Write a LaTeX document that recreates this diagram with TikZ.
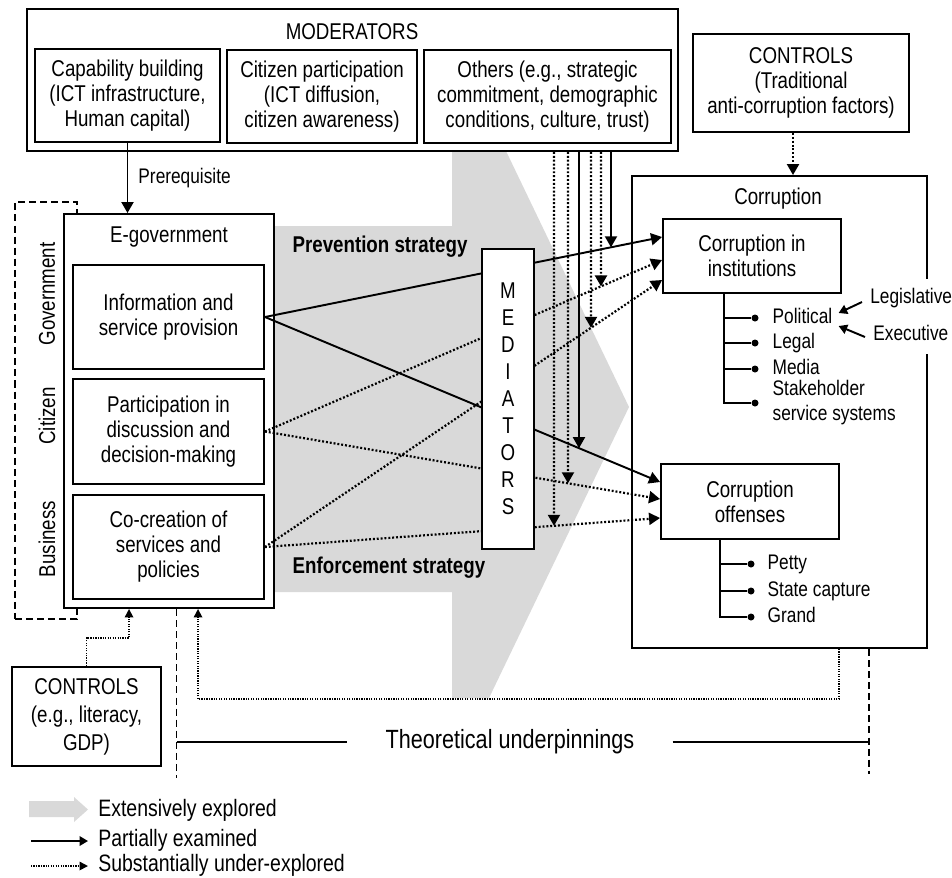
\documentclass[tikz,border=0pt]{standalone}
\usepackage{fontspec}
\setmainfont{Liberation Sans}[FakeStretch=0.82]
\usepackage{tikz}
\usetikzlibrary{positioning,calc,arrows.meta}
\newcommand\txtbox{\fontsize{13}{14.2}\selectfont}
\newcommand\txtlist{\fontsize{12}{14.2}\selectfont}
\newcommand\txtmed{\fontsize{13}{15.4}\selectfont}
\newcommand\txtctl{\fontsize{13}{16}\selectfont}
\newcommand\txtbig{\fontsize{15}{17}\selectfont}
\newcommand\txtleg{\fontsize{13.5}{15}\selectfont}

\begin{document}
\begin{tikzpicture}[x=0.02cm,y=-0.02cm,
    sz/.style 2 args={minimum width=#1*0.02cm,minimum height=#2*0.02cm},
    ebox/.style={draw,line width=1.1pt,fill=white,align=center,inner sep=0pt,font=\txtbox},
    lbl/.style={inner sep=0pt,font=\txtbox,align=center},
    listitem/.style={inner sep=0pt,font=\txtlist,anchor=west,text height=1.6ex,text depth=0.4ex},
    listitemtwo/.style={inner sep=0pt,font=\txtlist,anchor=west,align=left},
    bullet/.style={circle,fill,inner sep=0pt,minimum size=0.14cm},
    branch/.style={line width=1.1pt},
    solidarr/.style={line width=1.1pt,-{Triangle[length=0.22cm,width=0.24cm]}},
    smallarr/.style={line width=1.1pt,-{Triangle[length=0.17cm,width=0.19cm]}},
    dotarr/.style={line width=1.25pt,dash pattern=on 1.1pt off 1.1pt,-{Triangle[length=0.22cm,width=0.24cm]}},
    thindot/.style={line width=0.9pt,dash pattern=on 0.7pt off 0.7pt,-{Triangle[length=0.17cm,width=0.17cm]}},
    dashln/.style={line width=0.6pt,dash pattern=on 4pt off 2.3pt}]
  \useasboundingbox (0,0) rectangle (952,877);

  \fill[gray!30] (274,226) -- (452,226) -- (452,151) -- (506,151) -- (629,407) -- (489,698)
    -- (452,698) -- (452,592) -- (274,592) -- cycle;

  \node[ebox,sz={651}{142}] (mod) at (352.5,80) {};
  \node[lbl] (modlbl) at (352,32) {MODERATORS};
  \node[ebox,sz={185}{93}] (capab) at (127.5,95.5) {Capability building\\(ICT infrastructure,\\Human capital)};
  \node[ebox,sz={190}{93}] (citpart) at (322,96.5) {Citizen participation\\(ICT diffusion,\\citizen awareness)};
  \node[ebox,sz={247}{93}] (others) at (547.5,96.5) {Others (e.g., strategic\\commitment, demographic\\conditions, culture, trust)};

  \node[ebox,sz={216}{98}] (ctrltop) at (801,83) {CONTROLS\\(Traditional\\anti-corruption factors)};
  \node[ebox,fill=none,sz={295}{472}] (corr) at (779.5,412) {};
  \node[lbl] (corrlbl) at (778,199) {Corruption};
  \coordinate (ctd) at ($(ctrltop.south)+(-8,0)$);
  \draw[dotarr] (ctd) -- (ctd |- corr.north);
  \node[ebox,sz={178}{74}] (inst) at (752,256) {Corruption in\\institutions};
  \node[ebox,sz={178}{75}] (off) at (750,501.5) {Corruption\\offenses};

  \coordinate (instroot) at ($(inst.south)+(-28,0)$);
  \foreach \nm/\yy/\txt in {pol/318/Political,leg/343/Legal,media/369/Media}{
    \node[bullet] (b\nm) at (755,\yy) {};
    \node[listitem,right=0.27cm of b\nm] (\nm) {\txt};
    \draw[branch] (instroot |- b\nm) -- (b\nm);
  }
  \node[bullet] (bstk) at (755,403) {};
  \node[listitemtwo,right=0.27cm of bstk] (stk) {Stakeholder\\service systems};
  \draw[branch] (instroot) |- (bstk);

  \coordinate (offroot) at ($(off.south)+(-30,0)$);
  \foreach \nm/\yy/\txt in {petty/564/Petty,statecap/591/State capture}{
    \node[bullet] (b\nm) at (751,\yy) {};
    \node[listitem,right=0.25cm of b\nm] (\nm) {\txt};
    \draw[branch] (offroot |- b\nm) -- (b\nm);
  }
  \node[bullet] (bgrand) at (751,617) {};
  \node[listitem,right=0.25cm of bgrand] (grand) {Grand};
  \draw[branch] (offroot) |- (bgrand);

  \node[listitem,fill=white,inner xsep=0.1cm,inner ysep=0.2cm] (legis) at (865,298) {Legislative};
  \node[listitem,fill=white,inner xsep=0.1cm,inner ysep=0.2cm] (exec) at (868,335) {Executive};
  \draw[smallarr] ($(legis.west)+(-3,4)$) -- ($(pol.east)+(6,-5)$);
  \draw[smallarr] ($(exec.west)+(-3,2)$) -- ($(pol.east)+(6,8)$);

  \node[draw,dashln,sz={62}{417}] (grp) at (46,410.5) {};
  \node[ebox,sz={210}{394}] (egov) at (169,411) {};
  \node[lbl] (egovlbl) at (169,237) {E-government};
  \node[ebox,sz={191}{104}] (info) at (168.5,317) {Information and\\service provision};
  \node[ebox,sz={191}{105}] (part) at (168.5,431.5) {Participation in\\discussion and\\decision-making};
  \node[ebox,sz={191}{104}] (cocr) at (168.5,547) {Co-creation of\\services and\\policies};
  \node[lbl,rotate=90] (lgov) at (47,294) {Government};
  \node[lbl,rotate=90] (lcit) at (47,416) {Citizen};
  \node[lbl,rotate=90] (lbus) at (47,539) {Business};

  \draw[solidarr] (capab.south) -- (capab.south |- egov.north) node[listitem,midway,right=0.2cm] (prereq) {Prerequisite};

  \node[lbl,font=\bfseries\txtbox] (prev) at (380,247) {Prevention strategy};
  \node[lbl,font=\bfseries\txtbox] (enf) at (389,568) {Enforcement strategy};

  \coordinate (si) at (info.east);
  \coordinate (sp) at (part.east);
  \coordinate (sc) at (cocr.east);
  \coordinate (ti1) at ($(inst.west)+(0,-19)$);
  \coordinate (ti2) at ($(inst.west)+(0,4)$);
  \coordinate (ti3) at ($(inst.west)+(0,24)$);
  \coordinate (to1) at ($(off.west)+(0,-19.5)$);
  \coordinate (to2) at ($(off.west)+(0,-2.5)$);
  \coordinate (to3) at ($(off.west)+(0,16.5)$);
  \draw[solidarr] (si) -- (ti1);
  \draw[solidarr] (si) -- (to1);
  \draw[dotarr] (sp) -- (ti2);
  \draw[dotarr] (sp) -- (to2);
  \draw[dotarr] (sc) -- (ti3);
  \draw[dotarr] (sc) -- (to3);

  \node[ebox,font=\txtmed,sz={52}{300}] (mediators) at (508,399) {M\\E\\D\\I\\A\\T\\O\\R\\S};

  \foreach \i/\dx in {1/-125,2/-111,3/-100,4/-88,5/-78,6/-68}{
    \coordinate (vt\i) at ($(mod.south east)+(\dx,0)$);
    \coordinate (vb\i) at ($(vt\i)+(0,500)$);
  }
  \draw[dotarr] (vt1) -- (intersection of sc--to3 and vt1--vb1);
  \draw[dotarr] (vt2) -- (intersection of sp--to2 and vt2--vb2);
  \draw[solidarr] (vt3) -- (intersection of si--to1 and vt3--vb3);
  \draw[dotarr] (vt4) -- (intersection of sc--ti3 and vt4--vb4);
  \draw[dotarr] (vt5) -- (intersection of sp--ti2 and vt5--vb5);
  \draw[solidarr] (vt6) -- (intersection of si--ti1 and vt6--vb6);

  \node[ebox,font=\txtctl,sz={149}{99}] (ctrlleft) at (86.5,716.5) {CONTROLS\\(e.g., literacy,\\GDP)};
  \coordinate (cle) at ($(egov.south west)+(66,0)$);
  \draw[thindot] (ctrlleft.north) -- ++(0,-28) -| (cle);
  \coordinate (fbs) at ($(corr.south east)+(-89,0)$);
  \coordinate (fbe) at ($(egov.south west)+(135,0)$);
  \draw[thindot] (fbs) -- ++(0,50) -| (fbe);

  \coordinate (thl) at ($(egov.south east)+(-98,0)$);
  \coordinate (thr) at ($(corr.south east)+(-59,0)$);
  \draw[dashln] (thl) -- ++(0,169);
  \draw[dashln] (thr) -- ++(0,125);
  \node[inner sep=0pt,inner xsep=0.76cm,font=\txtbig] (theory) at (510,742) {Theoretical underpinnings};
  \draw[line width=0.7pt] (thl |- theory) -- (theory.west);
  \draw[line width=0.7pt] (theory.east) -- (thr |- theory);

  \fill[gray!30] (29,801) -- (74,801) -- (74,797) -- (88,809.5) -- (74,822) -- (74,817) -- (29,817) -- cycle;
  \node[listitem,font=\txtleg] (lgext) at (98,811) {Extensively explored};
  \node[listitem,font=\txtleg] (lgpart) at (98,841) {Partially examined};
  \node[listitem,font=\txtleg] (lgdot) at (98,866) {Substantially under-explored};
  \draw[smallarr] ($(lgpart.west)+(-67,0)$) -- ($(lgpart.west)+(-10,0)$);
  \draw[thindot] ($(lgdot.west)+(-67,0)$) -- ($(lgdot.west)+(-10,0)$);
\end{tikzpicture}
\end{document}
